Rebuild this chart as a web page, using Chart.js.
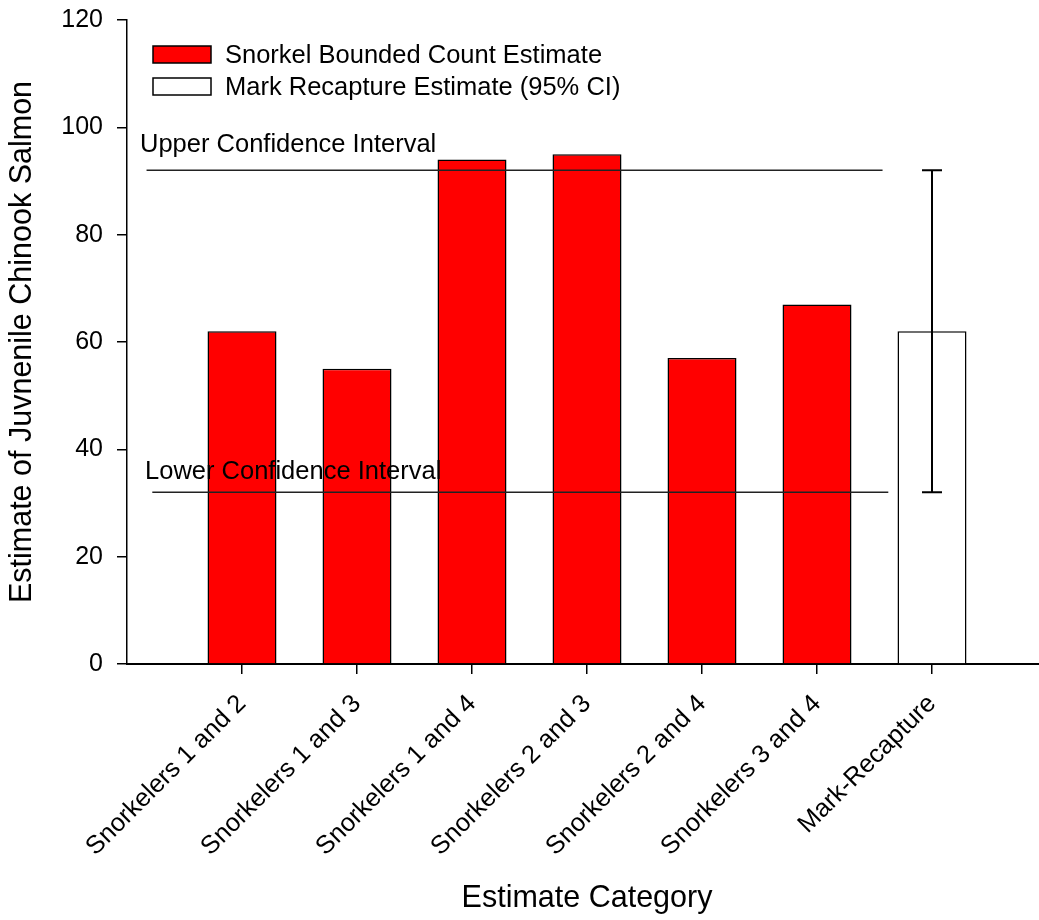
<!DOCTYPE html>
<html>
<head>
<meta charset="utf-8">
<title>Juvenile Chinook Salmon Estimates</title>
<script src="https://cdn.jsdelivr.net/npm/chart.js@4/dist/chart.umd.min.js"></script>
<style>
  html, body { margin: 0; padding: 0; overflow: hidden; background: #fff; }
  #wrap { width: 1039px; height: 920px; overflow: hidden; }
  canvas { display: block; }
</style>
</head>
<body>
<div id="wrap"><canvas id="chart" width="1047" height="920"></canvas></div>
<script>
// Estimate categories along the x axis
const categories = [
  'Snorkelers 1 and 2',
  'Snorkelers 1 and 3',
  'Snorkelers 1 and 4',
  'Snorkelers 2 and 3',
  'Snorkelers 2 and 4',
  'Snorkelers 3 and 4',
  'Mark-Recapture'
];
// Snorkel bounded count estimates (first six categories)
const snorkelEstimates = [62, 55, 94, 95, 57, 67];
// Mark-recapture estimate (last category) with its 95% confidence interval
const markRecaptureEstimate = [62];
const ciLower = 32;
const ciUpper = 92;
// Y axis tick values
const yTicks = [0, 20, 40, 60, 80, 100, 120];

const FONT = "'Liberation Sans', Arial, Helvetica, sans-serif";
Chart.defaults.font.family = FONT;
Chart.defaults.color = '#000';

const snorkelPoints = snorkelEstimates.map((v, i) => ({ x: i + 1, y: v }));
const markPoints = markRecaptureEstimate.map((v, i) => ({ x: snorkelEstimates.length + i + 1, y: v }));

// Legend drawn inside the plot area from the bar datasets
const innerLegend = {
  id: 'innerLegend',
  afterDraw(chart, args, opts) {
    const ctx = chart.ctx;
    const items = chart.data.datasets.filter(d => d.inLegend);
    ctx.save();
    ctx.font = opts.fontSize + 'px ' + FONT;
    ctx.textBaseline = 'middle';
    ctx.textAlign = 'left';
    items.forEach((d, i) => {
      const top = opts.top + i * opts.pitch;
      ctx.fillStyle = d.backgroundColor;
      ctx.fillRect(opts.left, top, opts.boxWidth, opts.boxHeight);
      ctx.strokeStyle = '#000';
      ctx.lineWidth = 1.5;
      ctx.strokeRect(opts.left, top, opts.boxWidth, opts.boxHeight);
      ctx.fillStyle = '#000';
      ctx.fillText(d.label, opts.left + opts.boxWidth + opts.gap, top + opts.boxHeight / 2 + 1);
    });
    ctx.restore();
  }
};

// Vertical 95% CI whisker on the mark-recapture bar
const ciWhisker = {
  id: 'ciWhisker',
  afterDatasetsDraw(chart, args, opts) {
    const { ctx, scales: { x, y } } = chart;
    const px = x.getPixelForValue(opts.at);
    const top = y.getPixelForValue(opts.high);
    const bot = y.getPixelForValue(opts.low);
    ctx.save();
    ctx.strokeStyle = '#000';
    ctx.lineWidth = 2;
    ctx.beginPath();
    ctx.moveTo(px, top); ctx.lineTo(px, bot);
    ctx.moveTo(px - opts.cap, top); ctx.lineTo(px + opts.cap, top);
    ctx.moveTo(px - opts.cap, bot); ctx.lineTo(px + opts.cap, bot);
    ctx.stroke();
    ctx.restore();
  }
};

// Text labels for the confidence interval reference lines
const ciText = {
  id: 'ciText',
  afterDatasetsDraw(chart, args, opts) {
    const { ctx, scales: { x, y } } = chart;
    ctx.save();
    ctx.font = opts.fontSize + 'px ' + FONT;
    ctx.fillStyle = '#000';
    ctx.textAlign = 'left';
    ctx.textBaseline = 'alphabetic';
    opts.labels.forEach(l => ctx.fillText(l.text, x.getPixelForValue(l.x), y.getPixelForValue(l.y)));
    ctx.restore();
  }
};

new Chart(document.getElementById('chart'), {
  type: 'bar',
  data: {
    datasets: [
      {
        type: 'line',
        data: [{ x: 0.17, y: ciUpper }, { x: 6.57, y: ciUpper }],
        borderColor: '#222',
        borderWidth: 1.5,
        pointRadius: 0,
        fill: false,
        order: 0
      },
      {
        type: 'line',
        data: [{ x: 0.22, y: ciLower }, { x: 6.62, y: ciLower }],
        borderColor: '#222',
        borderWidth: 1.5,
        pointRadius: 0,
        fill: false,
        order: 0
      },
      {
        type: 'bar',
        label: 'Snorkel Bounded Count Estimate',
        inLegend: true,
        data: snorkelPoints,
        backgroundColor: '#ff0000',
        borderColor: '#000',
        borderWidth: 1.5,
        barPercentage: 0.6,
        categoryPercentage: 1,
        grouped: false,
        order: 2
      },
      {
        type: 'bar',
        label: 'Mark Recapture Estimate (95% CI)',
        inLegend: true,
        data: markPoints,
        backgroundColor: '#ffffff',
        borderColor: '#000',
        borderWidth: 1.5,
        barPercentage: 0.6,
        categoryPercentage: 1,
        grouped: false,
        order: 2
      }
    ]
  },
  options: {
    responsive: false,
    animation: false,
    events: [],
    layout: { padding: { top: 20, left: 0, right: 0, bottom: 0 } },
    plugins: {
      legend: { display: false },
      tooltip: { enabled: false },
      innerLegend: { left: 153, top: 46, pitch: 32, boxWidth: 58, boxHeight: 17, gap: 14, fontSize: 25.5 },
      ciWhisker: { at: categories.length, low: ciLower, high: ciUpper, cap: 10 },
      ciText: {
        fontSize: 25.5,
        labels: [
          { text: 'Upper Confidence Interval', x: 0.113, y: 95.4 },
          { text: 'Lower Confidence Interval', x: 0.157, y: 34.5 }
        ]
      }
    },
    scales: {
      x: {
        type: 'linear',
        min: 0,
        max: 8,
        offset: false,
        afterBuildTicks: s => { s.ticks = categories.map((_, i) => ({ value: i + 1 })); },
        afterFit: s => { s.height = 256; },
        grid: { display: true, offset: false, drawOnChartArea: false, drawTicks: true, tickLength: 10, color: '#000', lineWidth: 1.5 },
        border: { display: true, color: '#000', width: 2 },
        ticks: {
          autoSkip: false,
          minRotation: 45,
          maxRotation: 45,
          padding: 15,
          color: '#000',
          font: { size: 25.5 },
          callback: v => categories[v - 1] ?? ''
        },
        title: { display: true, text: 'Estimate Category', color: '#000', font: { size: 30.5 }, padding: { top: 4, bottom: 3 } }
      },
      y: {
        type: 'linear',
        min: 0,
        max: 120,
        afterBuildTicks: s => { s.ticks = yTicks.map(v => ({ value: v })); },
        afterFit: s => { s.width = 127; s.paddingTop = 0; s.paddingBottom = 0; },
        grid: { display: true, drawOnChartArea: false, drawTicks: true, tickLength: 10, color: '#000', lineWidth: 1.5 },
        border: { display: true, color: '#000', width: 1.5 },
        ticks: { padding: 14, color: '#000', font: { size: 25 } },
        title: { display: true, text: 'Estimate of Juvnenile Chinook Salmon', color: '#000', font: { size: 30.5 }, padding: { top: 4, bottom: 4 } }
      }
    }
  },
  plugins: [innerLegend, ciWhisker, ciText]
});
</script>
</body>
</html>
